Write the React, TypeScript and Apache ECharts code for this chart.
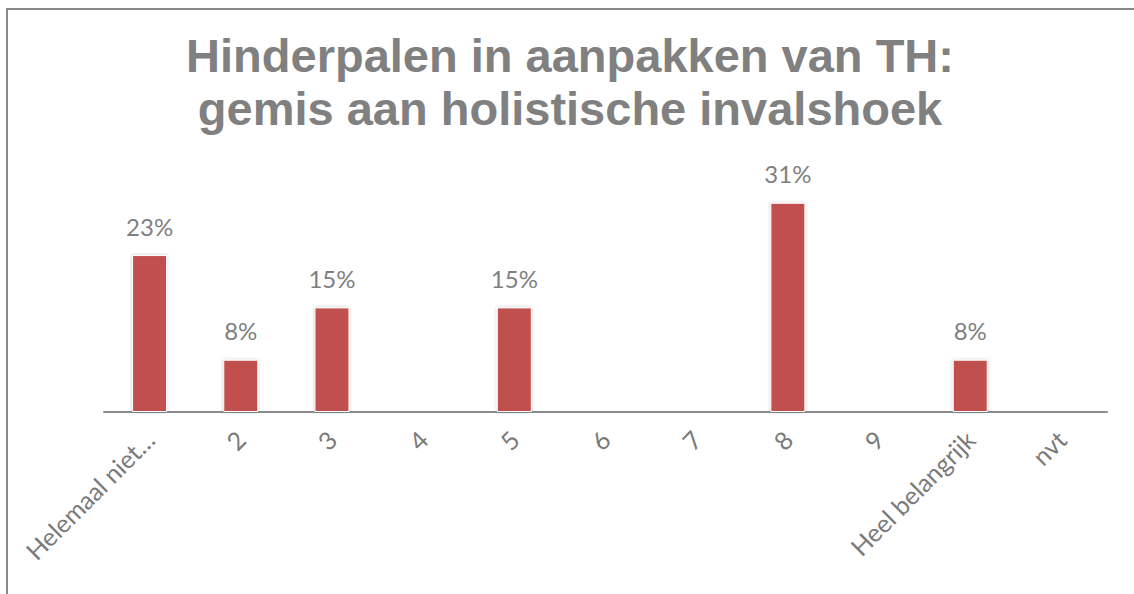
import React, { useEffect, useRef } from "react";
import * as echarts from "echarts";

const titleLines = ["Hinderpalen in aanpakken van TH:", "gemis aan holistische invalshoek"];
const categories = ["Helemaal niet…", "2", "3", "4", "5", "6", "7", "8", "9", "Heel belangrijk", "nvt"];
const values = [23.08, 7.69, 15.38, 0, 15.38, 0, 0, 30.77, 0, 7.69, 0];

export default function App() {
  const ref = useRef<HTMLDivElement>(null);
  useEffect(() => {
    document.body.style.margin = "0";
    document.body.style.overflow = "hidden";
    const chart = echarts.init(ref.current!, null, { renderer: "svg" });
    const titleStyle = {
      fontFamily: "Liberation Sans",
      fontWeight: "bold",
      fontSize: 47,
      lineHeight: 52,
      color: "#808080",
    };
    chart.setOption({
      animation: false,
      backgroundColor: "#ffffff",
      title: titleLines.map((t, i) => ({
        text: t,
        left: 570,
        textAlign: "center",
        top: 29 + i * 53,
        padding: 0,
        textStyle: titleStyle,
      })),
      graphic: [
        {
          type: "rect",
          shape: { x: 7, y: 9, width: 1300, height: 800 },
          style: { fill: "none", stroke: "#898989", lineWidth: 2 },
          silent: true,
        },
      ],
      grid: { left: 104, right: 27, top: 174, bottom: 182 },
      xAxis: {
        type: "category",
        data: categories,
        axisLine: { lineStyle: { color: "#8c8c8c", width: 2 } },
        axisTick: { show: false },
        axisLabel: {
          rotate: 45,
          interval: 0,
          margin: 23,
          color: "#7a7a7a",
          fontSize: 25,
          fontFamily: "Lato",
        },
      },
      yAxis: {
        type: "value",
        min: 0,
        max: 35,
        show: false,
        splitLine: { show: false },
      },
      series: [
        {
          type: "bar",
          data: values.map((v) => (v === 0 ? null : v)),
          barWidth: 35,
          itemStyle: {
            color: "#C0504D",
            borderColor: "#ffffff",
            borderWidth: 1,
            shadowColor: "rgba(0,0,0,0.25)",
            shadowBlur: 3,
          },
          label: {
            show: true,
            position: "top",
            distance: 17,
            color: "#7f7f7f",
            fontSize: 24,
            fontFamily: "Lato",
            formatter: (p: any) => Math.round(p.value) + "%",
          },
        },
      ],
    });
    return () => chart.dispose();
  }, []);
  return <div ref={ref} style={{ width: 1134, height: 594 }} />;
}
